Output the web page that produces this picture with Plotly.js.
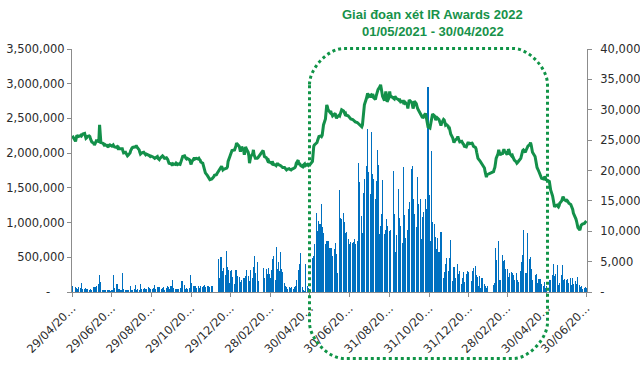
<!DOCTYPE html>
<html><head><meta charset="utf-8">
<script src="https://cdn.plot.ly/plotly-3.0.1.min.js"></script>
<style>html,body{margin:0;padding:0;background:#fff}#chart{width:640px;height:367px}</style>
</head><body><div id="chart"></div><script>
// Trading calendar (HOSE) – weekends and market holidays are skipped
const startDate = '2020-04-29';
const endDate = '2022-06-30';
const holidays = ['2020-04-30','2020-05-01','2020-09-02','2021-01-01',
  '2021-02-10','2021-02-11','2021-02-12','2021-02-15','2021-02-16',
  '2021-04-21','2021-04-30','2021-05-03','2021-09-02','2021-09-03',
  '2022-01-03','2022-01-31','2022-02-01','2022-02-02','2022-02-03','2022-02-04',
  '2022-04-11','2022-05-02','2022-05-03'];

// Daily traded volume, thousands of shares (one line per month)
const volumeK = [
 80,
 75,50,60,45,70,55,40,135,45,50,40,55,50,45,50,30,25,45,20,35,
 70,60,75,40,80,60,120,250,150,40,30,25,30,20,25,30,35,25,30,20,25,30,
 240,70,60,120,110,45,50,40,30,35,270,40,30,25,30,35,25,30,20,85,30,25,35,
 40,30,100,35,45,30,25,110,40,50,45,55,30,50,40,60,65,55,45,30,40,
 60,100,45,55,65,50,70,60,40,55,65,50,35,60,45,85,70,50,80,60,90,
 180,60,40,45,35,50,40,55,45,60,155,110,100,50,45,60,50,55,40,240,125,60,
 80,60,85,70,55,75,90,60,50,80,70,85,60,95,75,65,80,90,70,60,85,
 80,0,0,0,0,0,0,470,200,510,400,260,300,350,250,280,595,360,310,130,300,310,220,
 120,310,100,320,230,170,215,150,175,90,195,205,150,225,320,235,215,160,310,255,
 200,360,230,520,280,425,160,340,340,205,335,255,145,340,265,
 205,310,380,470,520,180,205,650,325,425,300,570,325,295,180,135,90,40,70,40,50,70,60,
 50,70,40,60,70,80,180,160,320,410,560,310,75,30,20,405,85,70,60,40,
 495,470,520,690,1145,880,710,1025,985,975,1265,930,830,855,690,740,710,615,735,640,
 470,640,545,520,615,700,445,545,280,310,1465,1060,840,1050,1140,1010,735,855,865,663,760,690,
 720,680,700,650,720,760,690,740,720,1855,830,1590,1095,850,1170,1420,1625,1660,1815,2345,1730,1550,
 1410,2310,1700,1635,1625,1345,1500,1600,2050,1830,840,950,770,1120,1610,830,900,785,1050,950,880,785,
 900,1745,1040,1120,570,815,1480,830,1070,495,950,700,1800,1110,865,785,900,650,1200,1000,
 1300,1770,1810,1345,1310,1120,930,410,1660,1265,770,1345,770,1080,900,1155,1345,1080,1200,2250,2955,
 1400,735,740,2035,1010,975,520,795,615,785,570,375,310,865,335,205,135,290,400,485,160,300,
 485,160,745,160,230,360,280,205,295,400,265,300,145,120,160,200,290,150,180,260,300,220,290,
 160,300,255,350,375,240,145,215,85,230,60,135,200,205,120,70,90,60,80,
 100,100,135,640,455,735,160,180,180,180,535,175,445,460,325,280,
 325,215,230,270,295,270,240,200,170,95,270,170,150,130,300,435,530,280,890,280,250,280,300,
 855,480,505,335,290,170,250,120,265,130,190,95,72,190,120,80,150,100,60,90,
 95,175,145,240,400,130,225,265,255,385,105,72,130,240,395,170,105,190,120,170,
 190,72,130,205,95,170,200,120,160,85,110,215,105,95,72,80,72,48,60,50,72,60
];

// Daily closing price, thousands of VND (one line per month)
const priceK = [
 25.7,
 24.8,25.3,25.8,25.7,25.6,25.7,25.8,25.7,25.8,26.0,26.1,25.8,25.3,25.4,25.6,25.7,25.6,25.2,24.8,24.7,
 24.5,24.2,24.4,24.6,24.9,24.8,25.2,27.5,25.0,24.6,24.5,24.4,24.2,24.3,24.2,24.0,24.1,24.0,24.1,24.2,24.0,24.1,
 24.2,24.0,23.9,23.8,23.9,23.7,23.8,23.6,23.6,23.5,23.6,23.2,22.9,23.0,22.8,22.6,22.4,22.5,22.9,23.3,23.6,23.7,23.8,
 23.8,23.9,24.0,24.0,23.8,23.4,23.0,22.7,22.8,22.9,23.0,22.9,22.7,22.6,22.7,22.6,22.5,22.4,22.3,22.4,22.3,
 22.2,22.0,22.1,22.3,22.0,21.9,21.8,22.0,22.2,22.4,22.3,22.2,22.0,22.1,22.0,21.8,21.5,21.2,21.1,21.0,21.1,
 21.0,21.1,21.0,21.2,21.1,21.0,21.1,21.0,21.3,21.6,22.0,22.3,22.4,22.1,22.0,21.9,22.0,21.8,21.7,21.3,21.0,21.4,
 22.0,22.1,21.9,22.0,22.0,21.9,22.0,21.8,21.7,21.4,21.2,20.8,20.3,20.0,19.6,19.2,19.0,18.8,18.6,18.5,18.6,
 18.7,18.8,19.0,19.2,19.3,19.5,19.7,19.9,20.1,20.5,20.7,20.4,20.1,20.2,20.3,20.3,20.4,20.6,21.5,22.4,22.8,23.1,23.3,
 23.4,23.6,24.0,24.5,24.4,24.0,23.6,23.1,23.5,23.9,23.3,22.6,23.0,23.9,23.6,23.0,22.4,21.2,21.8,22.3,
 22.8,23.4,22.6,22.2,22.0,22.0,22.1,23.3,22.7,22.3,22.1,21.8,21.6,21.7,21.4,
 21.3,21.2,21.5,21.2,21.0,20.9,20.8,21.0,21.2,21.0,20.9,20.8,20.7,20.6,20.5,20.5,20.4,20.3,20.1,20.2,20.3,20.2,20.1,
 20.1,20.2,20.3,20.4,20.5,20.7,21.2,21.7,20.9,21.2,21.0,20.8,20.6,20.9,21.1,20.8,21.0,20.9,21.2,20.8,
 21.5,23.9,24.0,24.2,24.5,24.6,25.0,25.2,25.6,25.7,25.6,25.8,27.0,27.5,28.5,30.0,30.8,30.5,30.0,29.6,
 29.8,29.5,29.1,29.0,29.3,29.4,28.9,28.6,28.8,29.1,29.0,29.3,29.7,30.0,29.8,29.5,29.3,29.4,29.1,29.0,28.9,28.8,
 28.7,28.5,28.4,28.3,28.2,28.1,28.0,27.9,27.8,27.6,27.5,27.4,27.2,27.5,28.4,29.5,30.8,31.8,32.4,32.7,32.5,32.2,
 32.4,32.0,32.4,32.6,32.0,31.7,32.2,32.5,32.8,33.3,33.8,34.1,33.5,32.6,32.2,31.5,32.2,33.0,32.5,31.3,32.0,33.0,
 32.3,32.0,31.8,32.2,32.0,31.9,31.7,31.6,31.8,31.5,31.3,31.4,31.2,31.3,31.1,31.2,30.8,30.2,31.1,31.6,
 31.5,31.2,30.8,30.2,30.6,31.4,31.0,30.4,30.2,30.0,29.8,29.4,29.0,29.1,28.6,28.8,29.4,29.0,28.4,28.0,27.2,
 27.0,27.6,28.2,28.8,29.3,29.0,28.6,28.3,28.5,28.7,28.4,27.9,27.5,27.4,27.8,28.4,28.3,27.8,27.5,27.6,27.3,27.0,
 27.0,26.5,26.0,25.4,24.8,24.6,24.8,25.0,25.3,25.6,25.2,24.9,24.7,24.8,24.5,24.4,24.3,24.0,23.9,24.2,24.6,24.7,24.4,
 24.4,24.5,24.3,24.0,23.8,23.6,23.0,22.5,22.0,21.6,21.4,21.3,21.2,20.9,20.4,19.8,19.2,18.9,19.3,
 19.8,20.2,20.5,21.2,22.0,22.8,23.4,23.0,22.5,22.7,22.8,23.2,23.5,23.2,23.0,22.6,
 23.0,23.5,23.3,22.8,22.4,22.5,22.2,22.0,21.7,21.4,21.2,21.3,21.4,21.6,22.0,22.6,22.9,23.3,23.4,23.0,23.3,23.6,23.8,
 24.0,24.3,24.6,24.2,23.6,23.0,22.3,21.6,21.2,20.5,19.8,19.5,19.2,18.8,18.7,18.6,18.8,19.0,18.8,18.5,
 18.2,17.6,16.8,15.8,15.1,14.5,14.0,14.2,14.3,14.1,14.0,14.2,14.6,15.0,15.3,15.7,15.5,15.2,15.0,15.1,
 15.0,14.8,14.6,14.4,14.2,14.0,13.6,13.0,12.4,12.0,11.6,11.2,10.6,10.2,10.8,11.0,11.1,11.2,11.3,11.5,11.6,11.7
];

// Axis ticks
const xTickVals = ['2020-04-29','2020-06-29','2020-08-29','2020-10-29','2020-12-29','2021-02-28',
  '2021-04-30','2021-06-30','2021-08-31','2021-10-31','2021-12-31','2022-02-28','2022-04-30','2022-06-30'];
const xTickText = ['29/04/20\u2026','29/06/20\u2026','29/08/20\u2026','29/10/20\u2026','29/12/20\u2026','28/02/20\u2026',
  '30/04/20\u2026','30/06/20\u2026','31/08/20\u2026','31/10/20\u2026','31/12/20\u2026','28/02/20\u2026','30/04/20\u2026','30/06/20\u2026'];
const yTickVals = [0,500000,1000000,1500000,2000000,2500000,3000000,3500000];
const yTickText = ['-\u00a0\u00a0\u00a0\u00a0','500,000','1,000,000','1,500,000','2,000,000','2,500,000','3,000,000','3,500,000'];
const y2TickVals = [0,5000,10000,15000,20000,25000,30000,35000,40000];
const y2TickText = ['-','5,000','10,000','15,000','20,000','25,000','30,000','35,000','40,000'];
const periodTitle = 'Giai đoạn xét IR Awards 2022';
const periodRange = '01/05/2021 - 30/04/2022';

function tradingDays(start, end, hol) {
  const hs = new Set(hol), out = [];
  let t = Date.parse(start + 'T00:00:00Z');
  const e = Date.parse(end + 'T00:00:00Z');
  for (; t <= e; t += 86400000) {
    const d = new Date(t), wd = d.getUTCDay(), s = d.toISOString().slice(0, 10);
    if (wd !== 0 && wd !== 6 && !hs.has(s)) out.push(s);
  }
  return out;
}
const dates = tradingDays(startDate, endDate, holidays);
const n = Math.min(dates.length, volumeK.length, priceK.length);
const xs = dates.slice(0, n);
const vol = volumeK.slice(0, n).map(v => v * 1000);
const price = priceK.slice(0, n).map(v => Math.round(v * 1000));

const GREEN = '#13904A';
const AX = '#8C8C8C';
const TXT = '#2B2B2B';
const FONT = 'DejaVu Sans, Verdana, sans-serif';
const FS = 11.5;

const traces = [
  {type: 'bar', x: xs, y: vol, yaxis: 'y', marker: {color: '#0070C0', line: {width: 0}},
   width: 86400000 * 1.7, hoverinfo: 'x+y'},
  {type: 'scatter', mode: 'lines', x: xs, y: price, yaxis: 'y2',
   line: {color: GREEN, width: 3}, hoverinfo: 'x+y'}
];

// Rounded dotted frame (paper coordinates)
const pw = 515, ph = 243;
const L = (309.5 - 72) / pw, R = (547.5 - 72) / pw, T = (292 - 48.5) / ph, B = (292 - 358.5) / ph;
const rx = 34 / pw, ry = 36 / ph, k = 0.45;
const framePath =
  `M ${L},${T - ry} C ${L},${T - ry + k * ry} ${L + rx - k * rx},${T} ${L + rx},${T} ` +
  `L ${R - rx},${T} C ${R - rx + k * rx},${T} ${R},${T - ry + k * ry} ${R},${T - ry} ` +
  `L ${R},${B + ry} C ${R},${B + ry - k * ry} ${R - rx + k * rx},${B} ${R - rx},${B} ` +
  `L ${L + rx},${B} C ${L + rx - k * rx},${B} ${L},${B + ry - k * ry} ${L},${B + ry} Z`;

const layout = {
  width: 640, height: 367, autosize: false,
  margin: {l: 72, r: 53, t: 49, b: 75, pad: 0},
  paper_bgcolor: '#fff', plot_bgcolor: 'rgba(0,0,0,0)',
  showlegend: false, bargap: 0,
  font: {family: FONT, size: FS, color: TXT},
  xaxis: {type: 'date', range: ['2020-04-28 12:00', '2022-07-01 00:00'],
    tickmode: 'array', tickvals: xTickVals, ticktext: xTickText, tickangle: -45,
    ticks: 'outside', ticklen: 4, tickcolor: AX, showline: true, linecolor: AX, linewidth: 1,
    showgrid: false, zeroline: false, tickfont: {family: FONT, size: FS, color: TXT}},
  yaxis: {range: [0, 3500000], tickmode: 'array', tickvals: yTickVals, ticktext: yTickText,
    ticks: 'outside', ticklen: 4, tickcolor: AX, showline: true, linecolor: AX, linewidth: 1,
    showgrid: false, zeroline: false, tickfont: {family: FONT, size: FS, color: TXT}},
  yaxis2: {range: [0, 40000], overlaying: 'y', side: 'right', tickmode: 'array',
    tickvals: y2TickVals, ticktext: y2TickText, ticks: 'outside', ticklen: 4, tickcolor: AX,
    showline: true, linecolor: AX, linewidth: 1, showgrid: false, zeroline: false,
    ticklabelstandoff: 6, tickfont: {family: FONT, size: FS, color: TXT}},
  shapes: [{type: 'path', xref: 'paper', yref: 'paper', path: framePath,
    line: {color: '#109447', width: 3, dash: 'dot'}, fillcolor: 'rgba(0,0,0,0)', layer: 'above'}],
  annotations: [
    {xref: 'paper', yref: 'paper', x: (432.5 - 72) / pw, y: (292 - 14) / ph, showarrow: false,
     text: '<b>' + periodTitle + '</b>', xanchor: 'center', yanchor: 'middle',
     font: {family: 'Liberation Sans, Arial, sans-serif', size: 13, color: '#17924A'}},
    {xref: 'paper', yref: 'paper', x: (432.5 - 72) / pw, y: (292 - 32) / ph, showarrow: false,
     text: '<b>' + periodRange + '</b>', xanchor: 'center', yanchor: 'middle',
     font: {family: 'Liberation Sans, Arial, sans-serif', size: 13, color: '#17924A'}}
  ]
};

Plotly.newPlot('chart', traces, layout, {displayModeBar: false, staticPlot: true});
</script></body></html>
